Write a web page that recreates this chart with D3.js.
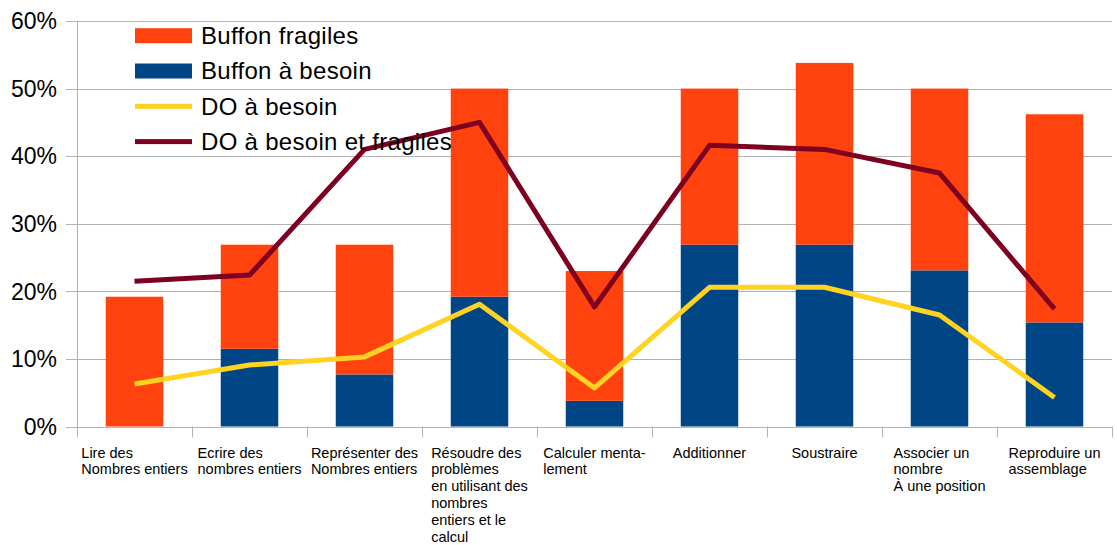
<!DOCTYPE html>
<html>
<head>
<meta charset="utf-8">
<script src="https://cdn.jsdelivr.net/npm/d3@7/dist/d3.min.js"></script>
<style>
  body { margin: 0; background: #fff; }
  svg { display: block; font-family: "Liberation Sans", Arial, sans-serif; }
</style>
</head>
<body>
<svg id="chart" width="1117" height="545"></svg>
<script>
// categories: each entry is the list of wrapped label lines
var categories = [
  ['Lire des', 'Nombres entiers'],
  ['Ecrire des', 'nombres entiers'],
  ['Représenter des', 'Nombres entiers'],
  ['Résoudre des', 'problèmes', 'en utilisant des', 'nombres', 'entiers et le', 'calcul'],
  ['Calculer menta-', 'lement'],
  ['Additionner'],
  ['Soustraire'],
  ['Associer un', 'nombre', 'À une position'],
  ['Reproduire un', 'assemblage']
];

// values in %
var buffonBesoin   = [0, 11.5, 7.7, 19.2, 3.8, 26.9, 26.9, 23.1, 15.4];
var buffonFragiles = [19.2, 15.4, 19.2, 30.8, 19.2, 23.1, 26.9, 26.9, 30.8];
var doBesoin          = [6.3, 9.1, 10.3, 18.1, 5.7, 20.6, 20.6, 16.5, 4.3];
var doBesoinFragiles  = [21.5, 22.4, 41.0, 45.0, 17.7, 41.6, 41.0, 37.5, 17.4];

var yTicks = [0, 10, 20, 30, 40, 50, 60];

(function() {
  var colors = {
    fragiles: '#ff420e',
    besoin: '#004586',
    doBesoin: '#ffd320',
    doFragiles: '#7e0021',
    grid: '#b3b3b3'
  };

  var svg = d3.select('#chart');
  var plotL = 77, plotR = 1112, plotT = 21, plotB = 426.5;

  var idx = d3.range(categories.length);
  var x = d3.scaleBand().domain(idx).range([plotL, plotR]).padding(0);
  var y = d3.scaleLinear().domain([0, 60]).range([plotB, plotT]);

  // grid + y ticks
  svg.append('g').selectAll('line')
    .data(yTicks)
    .enter().append('line')
    .attr('x1', plotL - 11).attr('x2', plotR)
    .attr('y1', function(d) { return Math.round(y(d)) + 0.5; })
    .attr('y2', function(d) { return Math.round(y(d)) + 0.5; })
    .attr('stroke', colors.grid).attr('stroke-width', 1);

  svg.append('g').selectAll('text')
    .data(yTicks)
    .enter().append('text')
    .attr('x', 57).attr('y', function(d) { return y(d); })
    .attr('dy', '0.36em')
    .attr('text-anchor', 'end')
    .attr('font-size', 23)
    .attr('fill', '#000')
    .text(function(d) { return d + '%'; });

  // stacked bars
  var rows = idx.map(function(i) {
    return { i: i, besoin: buffonBesoin[i], fragiles: buffonFragiles[i] };
  });
  var stack = d3.stack().keys(['besoin', 'fragiles'])(rows);
  var barW = x.bandwidth() * 0.5;

  svg.append('g').selectAll('g')
    .data(stack)
    .enter().append('g')
    .attr('fill', function(s) { return colors[s.key]; })
    .selectAll('rect')
    .data(function(s) { return s; })
    .enter().append('rect')
    .attr('x', function(d) { return x(d.data.i) + (x.bandwidth() - barW) / 2; })
    .attr('width', barW)
    .attr('y', function(d) { return y(d[1]); })
    .attr('height', function(d) { return y(d[0]) - y(d[1]); });

  // axis lines and category ticks
  svg.append('line')
    .attr('x1', plotL + 0.5).attr('x2', plotL + 0.5)
    .attr('y1', plotT).attr('y2', plotB + 11)
    .attr('stroke', colors.grid);
  svg.append('line')
    .attr('x1', plotL).attr('x2', plotR)
    .attr('y1', Math.round(plotB) + 0.5).attr('y2', Math.round(plotB) + 0.5)
    .attr('stroke', colors.grid);
  svg.append('g').selectAll('line')
    .data(d3.range(categories.length + 1))
    .enter().append('line')
    .attr('x1', function(i) { return Math.round(plotL + i * x.step()) + 0.5; })
    .attr('x2', function(i) { return Math.round(plotL + i * x.step()) + 0.5; })
    .attr('y1', plotB).attr('y2', plotB + 11)
    .attr('stroke', colors.grid);

  // lines
  var line = d3.line()
    .x(function(d, i) { return x(i) + x.bandwidth() / 2; })
    .y(function(d) { return y(d); });

  [[doBesoin, colors.doBesoin], [doBesoinFragiles, colors.doFragiles]].forEach(function(s) {
    svg.append('path')
      .datum(s[0])
      .attr('d', line)
      .attr('fill', 'none')
      .attr('stroke', s[1])
      .attr('stroke-width', 5)
      .attr('stroke-linejoin', 'round');
  });

  // category labels: left-aligned lines, block centred on the band
  svg.append('g').selectAll('text')
    .data(categories)
    .enter().append('text')
    .attr('font-size', 14.5)
    .attr('fill', '#000')
    .each(function(lines, i) {
      var t = d3.select(this);
      lines.forEach(function(l, k) {
        t.append('tspan').attr('x', 0).attr('y', 457.5 + k * 16.8).text(l);
      });
      var w = this.getBBox().width;
      var x0 = x(i) + x.bandwidth() / 2 - w / 2;
      t.selectAll('tspan').attr('x', x0);
    });

  // legend
  var legend = [
    { name: 'Buffon fragiles', color: colors.fragiles, type: 'bar' },
    { name: 'Buffon à besoin', color: colors.besoin, type: 'bar' },
    { name: 'DO à besoin', color: colors.doBesoin, type: 'line' },
    { name: 'DO à besoin et fragiles', color: colors.doFragiles, type: 'line' }
  ];

  var lg = svg.append('g').selectAll('g')
    .data(legend)
    .enter().append('g')
    .attr('transform', function(d, i) { return 'translate(135,' + (35.7 + i * 35.3) + ')'; });

  lg.append('rect')
    .attr('x', 0).attr('width', 57)
    .attr('y', function(d) { return d.type === 'bar' ? -7.5 : -2.5; })
    .attr('height', function(d) { return d.type === 'bar' ? 15 : 5; })
    .attr('fill', function(d) { return d.color; });

  lg.append('text')
    .attr('x', 66).attr('dy', '0.35em')
    .attr('font-size', 24)
    .attr('letter-spacing', 0.3)
    .attr('fill', '#000')
    .text(function(d) { return d.name; });
})();
</script>
</body>
</html>
